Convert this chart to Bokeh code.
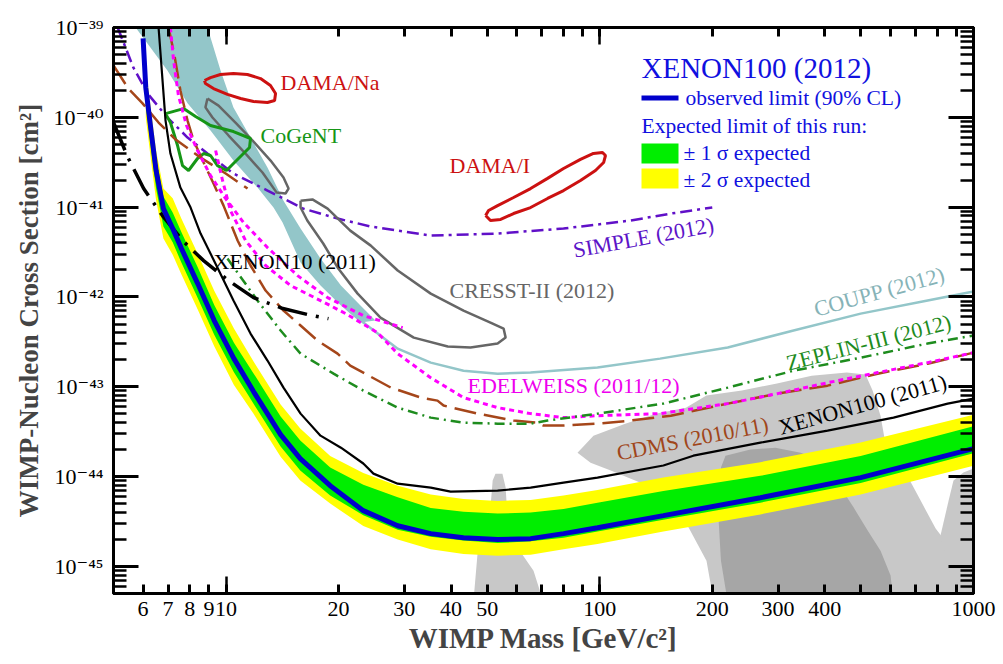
import math
from bokeh.plotting import figure
from bokeh.models import (FixedTicker, CustomJSTickFormatter, LogAxis, Label,
                          BoxAnnotation, Range1d)
from bokeh.embed import file_html
from bokeh.resources import INLINE

FONT = "Liberation Serif"
TICK_FONT = "'Liberation Serif', 'DejaVu Serif', serif"

# ---------------- axis ranges / ticks ----------------
X_MIN, X_MAX = 5.0, 1000.0
Y_MIN, Y_MAX = 5e-46, 1e-39
x_ticks = [6, 7, 8, 9, 10, 20, 30, 40, 50, 60, 70, 80, 90, 100,
           200, 300, 400, 500, 600, 700, 800, 900, 1000]
x_long_ticks = [10, 100, 1000]
x_label_vals = [6, 7, 8, 9, 10, 20, 30, 40, 50, 100, 200, 300, 400, 1000]
x_tick_labels = ["6", "7", "8", "9", "10", "20", "30", "40", "50",
                 "100", "200", "300", "400", "1000"]
y_ticks = [1e-45, 1e-44, 1e-43, 1e-42, 1e-41, 1e-40, 1e-39]
y_minor = [k * 10.0 ** e for e in range(-46, -39) for k in range(2, 10)]

# ---------------- XENON100 (2012) ----------------
xe12_mass = [6.0, 6.1, 6.3, 6.5, 6.8, 7.2, 7.6, 8.4, 9.3, 10.5, 11.85, 14.0, 15.8,
             19.0, 23.3, 28.8, 35.3, 43.2, 53.3, 65.3, 80.0, 98.6, 148, 269, 499, 1000]
xe12_obs = [7.55e-40, 2.15e-40, 7.13e-41, 2.56e-41, 9.64e-42, 5.78e-42, 3.46e-42,
            1.41e-42, 5.46e-43, 2.06e-43, 8.85e-44, 2.94e-44, 1.59e-44, 7.94e-45,
            4.18e-45, 2.84e-45, 2.32e-45, 2.09e-45, 1.99e-45, 2.04e-45, 2.32e-45,
            2.70e-45, 3.68e-45, 5.83e-45, 9.75e-45, 2.05e-44]
band_mass = [6.1, 6.3, 6.5, 6.8, 7.2, 7.6, 8.4, 9.3, 10.5, 11.85, 14.0, 15.8, 19.0,
             23.3, 28.8, 35.3, 43.2, 53.3, 65.3, 80.0, 98.6, 148, 269, 499, 1000]
band_2s_hi = [3.59e-40, 1.19e-40, 4.28e-41, 1.61e-41, 1.26e-41, 7.41e-42, 3.02e-42,
              1.17e-42, 4.47e-43, 1.91e-43, 6.36e-44, 3.44e-44, 1.70e-44, 1.10e-44,
              7.94e-45, 6.31e-45, 5.62e-45, 5.37e-45, 5.50e-45, 6.17e-45, 7.08e-45,
              9.77e-45, 1.45e-44, 2.40e-44, 4.90e-44]
band_1s_hi = [2.92e-40, 9.70e-41, 3.48e-41, 1.31e-41, 8.71e-42, 5.25e-42, 2.14e-42,
              8.13e-43, 3.09e-43, 1.41e-43, 4.67e-44, 2.52e-44, 1.26e-44, 8.13e-45,
              5.89e-45, 4.47e-45, 4.07e-45, 3.89e-45, 3.98e-45, 4.37e-45, 5.13e-45,
              6.92e-45, 1.02e-44, 1.70e-44, 3.63e-44]
band_1s_lo = [1.36e-40, 4.50e-41, 1.61e-41, 6.08e-42, 4.07e-42, 2.40e-42, 9.77e-43,
              3.80e-43, 1.45e-43, 6.46e-44, 2.16e-44, 1.17e-44, 6.17e-45, 3.72e-45,
              2.57e-45, 2.14e-45, 1.95e-45, 1.82e-45, 1.91e-45, 2.09e-45, 2.45e-45,
              3.31e-45, 5.13e-45, 8.51e-45, 1.82e-44]
band_2s_lo = [9.95e-41, 3.30e-41, 1.19e-41, 4.47e-42, 2.95e-42, 1.78e-42, 7.24e-43,
              2.82e-43, 1.05e-43, 5.01e-44, 1.67e-44, 9.06e-45, 5.01e-45, 2.82e-45,
              2.00e-45, 1.55e-45, 1.38e-45, 1.32e-45, 1.35e-45, 1.55e-45, 1.78e-45,
              2.45e-45, 3.80e-45, 6.31e-45, 1.32e-44]

# ---------------- XENON100 (2011) ----------------
xe11_mass = [6.60, 6.89, 7.10, 7.55, 8.04, 8.55, 9.49, 10.47, 11.63, 12.91, 14.25,
             15.83, 17.9, 20.3, 23.3, 24.8, 28.8, 35.3, 39.9, 53.3, 65.3, 80.0, 98.6,
             148, 178, 269, 407, 611, 853, 1000]
xe11_sigma = [1.0e-39, 9.2e-41, 3.95e-41, 1.65e-41, 9.9e-42, 5.08e-42, 2.12e-42,
              9.12e-43, 3.91e-43, 1.96e-43, 9.8e-44, 5.03e-44, 2.86e-44, 2.10e-44,
              1.40e-44, 1.08e-44, 8.35e-45, 7.55e-45, 6.81e-45, 6.98e-45, 7.55e-45,
              8.58e-45, 9.75e-45, 1.33e-44, 1.71e-44, 2.39e-44, 3.25e-44, 4.54e-44,
              6.50e-44, 7.39e-44]

# ---------------- XENON10 (2011) ----------------
xe10_mass = [5.0, 5.45, 6.02, 6.76, 7.65, 8.71, 10.16, 11.85, 14.2, 17.0, 18.8]
xe10_sigma = [8.75e-41, 3.66e-41, 1.61e-41, 8.05e-42, 4.25e-42, 2.54e-42, 1.52e-42,
              9.84e-43, 7.43e-43, 6.21e-43, 5.74e-43]

# ---------------- CDMS (2010/11) ----------------
cdms_mass = [7.02, 7.28, 7.55, 7.89, 8.19, 8.71, 9.26, 9.85, 10.74, 11.63, 12.76,
             14.25, 15.83, 17.58, 19.88, 21.5, 27.6, 33.2, 36.8, 38.2, 47.1, 58.8,
             68.2, 70.7, 80.0, 98.6, 121, 155, 220, 299, 407, 554, 754, 1000]
cdms_sigma = [1.0e-39, 4.88e-40, 1.99e-40, 9.2e-41, 5.52e-41, 3.14e-41, 1.83e-41,
              1.04e-41, 4.25e-42, 2.24e-42, 1.18e-42, 7.06e-43, 4.81e-43, 3.27e-43,
              2.34e-43, 1.72e-43, 9.8e-44, 7.59e-44, 7.02e-44, 6.18e-44, 5.03e-44,
              4.21e-44, 3.99e-44, 3.70e-44, 3.70e-44, 3.89e-44, 4.21e-44, 4.77e-44,
              6.50e-44, 8.39e-44, 1.03e-43, 1.40e-43, 1.81e-43, 2.40e-43]
cdms_lt_mass = [5.0, 5.48, 5.98, 6.60, 7.33, 8.55, 9.98, 11.42]
cdms_lt_sigma = [3.78e-40, 2.09e-40, 1.43e-40, 8.75e-41, 5.66e-41, 3.56e-41,
                 2.37e-41, 1.61e-41]

# ---------------- EDELWEISS (2011/12) ----------------
edw_lm_mass = [7.10, 7.24, 7.46, 7.84, 8.39, 9.09, 9.97, 11.14, 12.91, 15.54, 18.7,
               23.3, 29.7]
edw_lm_sigma = [1.0e-39, 4.30e-40, 1.75e-40, 8.11e-41, 4.27e-41, 2.25e-41, 1.25e-41,
                6.75e-42, 3.55e-42, 1.73e-42, 9.84e-43, 6.21e-43, 4.56e-43]
edw_mass = [9.38, 9.79, 10.28, 11.28, 12.76, 14.88, 17.9, 20.9, 25.4, 28.8, 35.3,
            43.2, 53.3, 65.3, 80.0, 98.6, 145, 220, 299, 407, 554, 754, 1000]
edw_sigma = [4.27e-41, 1.98e-41, 9.16e-42, 4.25e-42, 2.24e-42, 1.34e-42, 9.12e-43,
             6.53e-43, 4.02e-43, 2.34e-43, 1.26e-43, 7.59e-44, 5.86e-44, 5.03e-44,
             4.54e-44, 4.77e-44, 5.03e-44, 6.50e-44, 8.39e-44, 1.11e-43, 1.44e-43,
             1.86e-43, 2.40e-43]

# ---------------- ZEPLIN-III (2012) ----------------
zep_mass = [10.09, 12.14, 14.0, 15.83, 19.4, 23.3, 28.8, 35.3, 43.2, 53.3, 65.3,
            72.5, 98.6, 148, 220, 330, 499, 754, 1000]
zep_sigma = [2.68e-42, 9.12e-43, 4.23e-43, 2.34e-43, 1.40e-43, 9.08e-44, 5.86e-44,
             4.54e-44, 3.99e-44, 3.89e-44, 3.89e-44, 4.21e-44, 5.03e-44, 6.50e-44,
             9.8e-44, 1.51e-43, 2.11e-43, 3.03e-43, 3.72e-43]

# ---------------- COUPP (2012) ----------------
coupp_mass = [19.05, 23.3, 28.8, 35.3, 43.2, 53.3, 65.3, 98.6, 145, 220, 330, 499,
              754, 1000]
coupp_sigma = [1.18e-42, 5.19e-43, 2.66e-43, 1.86e-43, 1.51e-43, 1.40e-43, 1.44e-43,
               1.64e-43, 2.06e-43, 2.74e-43, 4.23e-43, 6.53e-43, 9.12e-43, 1.15e-42]
band_c_upper_mass = [8.92, 9.67, 10.47, 11.63, 12.91, 14.25, 15.83, 17.9, 20.3, 22.9, 25.1]
band_c_upper_sigma = [1e-39, 3.32e-40, 1.29e-40, 5.96e-41, 2.76e-41, 1.18e-41,
                      5.78e-42, 2.68e-42, 1.34e-42, 8.02e-43, 5.46e-43]
band_c_lower_mass = [22.9, 20.3, 17.9, 15.83, 14.17, 13.4, 12.14, 10.47, 9.09, 7.89,
                     6.97, 5.73]
band_c_lower_sigma = [5.19e-43, 8.02e-43, 1.34e-42, 2.42e-42, 6.75e-42, 9.9e-42,
                      1.65e-41, 3.30e-41, 7.13e-41, 1.43e-40, 3.32e-40, 1e-39]

# ---------------- SIMPLE (2012) ----------------
simple_mass = [5.13, 5.65, 6.17, 6.97, 7.89, 8.92, 10.47, 12.91, 16.1, 19.9, 24.4,
               35.3, 53.3, 80.0, 121, 155, 200]
simple_sigma = [1e-39, 3.59e-40, 1.84e-40, 9.95e-41, 5.96e-41, 3.95e-41, 2.37e-41,
                1.53e-41, 9.64e-42, 7.46e-42, 6.08e-42, 4.83e-42, 5.08e-42, 5.78e-42,
                7.10e-42, 8.49e-42, 9.9e-42]

# ---------------- signal claims (closed contours) ----------------
dama_na_mass = [8.76, 9.09, 9.66, 10.47, 11.41, 12.37, 13.15, 13.57, 13.49, 12.91,
                11.85, 10.94, 10.09, 9.26, 8.81]
dama_na_sigma = [2.57e-40, 2.77e-40, 3.00e-40, 3.08e-40, 3.00e-40, 2.70e-40, 2.26e-40,
                 1.84e-40, 1.54e-40, 1.46e-40, 1.50e-40, 1.62e-40, 1.80e-40, 2.09e-40,
                 2.38e-40]
dama_i_mass = [49.5, 50.4, 53.3, 58.8, 65.3, 72.5, 80.0, 88.8, 96.2, 101.7, 103.6,
               102.4, 97.4, 88.8, 80.0, 72.5, 65.3, 58.8, 54.3, 51.0]
dama_i_sigma = [8.07e-42, 9.18e-42, 1.04e-41, 1.28e-41, 1.61e-41, 2.09e-41, 2.69e-41,
                3.40e-41, 3.96e-41, 4.06e-41, 3.76e-41, 3.14e-41, 2.56e-41, 1.98e-41,
                1.53e-41, 1.25e-41, 9.9e-42, 8.49e-42, 7.29e-42, 7.11e-42]
cogent_mass = [6.89, 7.70, 8.29, 9.09, 10.47, 11.63, 11.56, 10.47, 10.03, 9.49, 9.09,
               8.71, 8.39, 7.94, 7.65, 7.42, 7.10]
cogent_sigma = [1.10e-40, 1.25e-40, 1.02e-40, 8.11e-41, 6.95e-41, 5.81e-41, 4.61e-41,
                3.06e-41, 2.56e-41, 2.90e-41, 3.76e-41, 3.95e-41, 3.48e-41, 2.56e-41,
                2.90e-41, 4.85e-41, 8.75e-41]
cresst1_mass = [8.92, 9.55, 10.60, 11.78, 13.16, 14.25, 14.70, 14.43, 13.65, 12.52,
                11.28, 10.16, 9.20, 8.81]
cresst1_sigma = [1.62e-40, 1.35e-40, 8.75e-41, 5.52e-41, 3.30e-41, 2.14e-41, 1.61e-41,
                 1.42e-41, 1.46e-41, 2.43e-41, 3.95e-41, 6.27e-41, 9.95e-41, 1.29e-40]
cresst2_mass = [15.83, 17.03, 18.7, 21.5, 24.4, 28.8, 35.3, 43.2, 51.0, 55.3, 56.0,
                53.3, 45.1, 39.2, 31.8, 25.9, 22.5, 19.9, 18.2, 16.5, 15.83]
cresst2_sigma = [1.18e-41, 1.22e-41, 9.64e-42, 5.48e-42, 3.73e-42, 1.97e-42, 1.09e-42,
                 7.06e-43, 5.19e-43, 4.45e-43, 3.53e-43, 3.03e-43, 2.74e-43, 2.81e-43,
                 3.53e-43, 5.90e-43, 1.09e-42, 2.12e-42, 3.94e-42, 7.10e-42, 9.9e-42]

# ---------------- CMSSM regions (gray) ----------------
cmssm_a_mass = [45.9, 47.1, 51.0, 51.7, 52.6, 54.9, 56.0, 56.7, 60.3, 66.5, 70.7]
cmssm_a_sigma = [4e-46, 1.39e-45, 4.52e-45, 9.04e-45, 1.08e-44, 1.08e-44, 7.55e-45,
                 3.24e-45, 1.62e-45, 8.97e-46, 4e-46]
cmssm_b_mass = [87.2, 96.2, 117, 142, 170, 193, 240, 298, 369, 458, 514, 537, 564,
                589, 658, 722, 792, 858, 880, 924, 202, 193, 173, 145, 107, 94.5]
cmssm_b_sigma = [1.85e-44, 2.86e-44, 3.89e-44, 5.03e-44, 5.86e-44, 7.98e-44, 9.08e-44,
                 1.09e-43, 1.33e-43, 1.44e-43, 1.37e-43, 9.08e-44, 4.77e-44, 1.71e-44,
                 1.11e-44, 5.41e-45, 2.64e-45, 1.71e-45, 8.97e-46, 4e-46, 4e-46,
                 1.16e-45, 2.70e-45, 6.98e-45, 1.17e-44, 1.43e-44]
cmssm_c_mass = [211, 217, 253, 295, 345, 407, 441, 478, 521, 564, 600, 611, 220, 211, 208]
cmssm_c_sigma = [1.26e-44, 1.71e-44, 2.00e-44, 2.10e-44, 1.85e-44, 1.40e-44, 7.55e-45,
                 4.52e-45, 2.51e-45, 1.50e-45, 7.91e-46, 4e-46, 4e-46, 1.16e-45, 3.24e-45]
cmssm_d_mass = [816, 858, 884, 940, 1000, 1100, 1100, 900]
cmssm_d_sigma = [2.21e-45, 5.42e-45, 9.06e-45, 1.11e-44, 1.23e-44, 1.23e-44, 4e-46, 4e-46]


def closed(a):
    return list(a) + [a[0]]


p = figure(frame_width=860, frame_height=566, x_axis_type="log", y_axis_type="log",
           x_range=Range1d(X_MIN, X_MAX), y_range=Range1d(Y_MIN, Y_MAX),
           output_backend="svg", toolbar_location=None,
           min_border_left=113, min_border_right=30, min_border_top=27,
           min_border_bottom=71, background_fill_color="white",
           border_fill_color="white")
p.grid.visible = False
p.outline_line_color = "black"
p.outline_line_width = 3

bottom = p.below[0]
left = p.left[0]

# ---- axes ----
xfmt = CustomJSTickFormatter(args=dict(vals=x_label_vals, labs=x_tick_labels), code="""
const i = vals.findIndex(v => Math.abs(v - tick) < 1e-6 * v);
return i >= 0 ? labs[i] : '';
""")
yfmt = CustomJSTickFormatter(code="""
const sup = {'-':'\u207b','0':'\u2070','1':'\u00b9','2':'\u00b2','3':'\u00b3','4':'\u2074',
             '5':'\u2075','6':'\u2076','7':'\u2077','8':'\u2078','9':'\u2079'};
const e = Math.round(Math.log10(tick));
return '10' + String(e).split('').map(c => sup[c]).join('');
""")
blank = CustomJSTickFormatter(code="return ' ';")

top = LogAxis()
right = LogAxis()
p.add_layout(top, "above")
p.add_layout(right, "right")

for ax in [bottom, top]:
    ax.ticker = FixedTicker(ticks=x_ticks, minor_ticks=x_long_ticks)
    ax.major_tick_in = 9
    ax.minor_tick_in = 17
for ax in [left, right]:
    ax.ticker = FixedTicker(ticks=y_ticks, minor_ticks=y_minor)
    ax.major_tick_in = 25
    ax.minor_tick_in = 13
for ax in [bottom, top, left, right]:
    ax.major_tick_out = 0
    ax.minor_tick_out = 0
    ax.axis_line_width = 3
    ax.major_tick_line_width = 3
    ax.minor_tick_line_width = 2.5
    ax.major_label_text_font = TICK_FONT
    ax.axis_label_text_font = FONT
    ax.major_label_text_color = "black"
for ax in [top, right]:
    ax.formatter = blank
    ax.major_label_text_font_size = "2px"
    ax.major_label_standoff = 0

bottom.formatter = xfmt
bottom.major_label_text_font_size = "22px"
bottom.major_label_standoff = 8
bottom.axis_label = "WIMP Mass [GeV/c\u00b2]"
bottom.axis_label_text_font_size = "29px"
bottom.axis_label_text_font_style = "bold"
bottom.axis_label_standoff = 3

left.formatter = yfmt
left.major_label_text_font_size = "22px"
left.major_label_standoff = 10
left.axis_label = "WIMP-Nucleon Cross Section [cm\u00b2]"
left.axis_label_text_font_size = "27px"
left.axis_label_text_font_style = "bold"
left.axis_label_standoff = 6

# ---- gray CMSSM regions ----
for gm, gs, gc in [(cmssm_a_mass, cmssm_a_sigma, "#c8c8c8"),
                   (cmssm_b_mass, cmssm_b_sigma, "#c8c8c8"),
                   (cmssm_d_mass, cmssm_d_sigma, "#c8c8c8"),
                   (cmssm_c_mass, cmssm_c_sigma, "#a6a6a6")]:
    p.patch(gm, gs, fill_color=gc, line_color=None)

# ---- light-blue band ----
p.patch(band_c_upper_mass + band_c_lower_mass, band_c_upper_sigma + band_c_lower_sigma,
        fill_color="#93c6c9", line_color=None)

# ---- XENON100 2012 expected bands ----
p.varea(x=band_mass, y1=band_2s_lo, y2=band_2s_hi, fill_color="#ffff00")
p.varea(x=band_mass, y1=band_1s_lo, y2=band_1s_hi, fill_color="#00ee00")

# ---- other limits ----
p.line(coupp_mass, coupp_sigma, line_color="#93c6c9", line_width=2.5)
p.line(simple_mass, simple_sigma, line_color="#6010c8", line_width=2.5,
       line_dash="12 5 3 5")
p.line(closed(cresst1_mass), closed(cresst1_sigma), line_color="#666666", line_width=2.5)
p.line(closed(cresst2_mass), closed(cresst2_sigma), line_color="#666666", line_width=2.5)
p.line(closed(dama_na_mass), closed(dama_na_sigma), line_color="#cc1111", line_width=3)
p.line(closed(dama_i_mass), closed(dama_i_sigma), line_color="#cc1111", line_width=3)
p.line(closed(cogent_mass), closed(cogent_sigma), line_color="#169616", line_width=3)
p.line(cdms_mass, cdms_sigma, line_color="#a5461a", line_width=2.5, line_dash="22 8")
p.line(cdms_lt_mass, cdms_lt_sigma, line_color="#a5461a", line_width=2.5, line_dash="22 8")
p.line(edw_lm_mass, edw_lm_sigma, line_color="#ff00ff", line_width=3, line_dash="5 4")
p.line(edw_mass, edw_sigma, line_color="#ff00ff", line_width=3, line_dash="5 4")
p.line(zep_mass, zep_sigma, line_color="#1e8c1e", line_width=2.5, line_dash="10 5 2 5")
p.line(xe10_mass, xe10_sigma, line_color="black", line_width=3.5, line_dash="30 9 3 9")
p.line(xe11_mass, xe11_sigma, line_color="black", line_width=2.2)
p.line(xe12_mass, xe12_obs, line_color="#0000cc", line_width=5)


# ---- text labels (placed by pixel position in the frame) ----
def at(px, py):
    lx = math.log10(X_MIN) + (px - 113) / 860 * (math.log10(X_MAX) - math.log10(X_MIN))
    ly = math.log10(Y_MAX) - (py - 27) / 566 * (math.log10(Y_MAX) - math.log10(Y_MIN))
    return 10 ** lx, 10 ** ly


labels = [
    ("DAMA/Na", 280, 82, "#cc1111", 0, "left", "middle"),
    ("CoGeNT", 260, 135, "#169616", 0, "left", "middle"),
    ("DAMA/I", 449, 165, "#cc1111", 0, "left", "middle"),
    ("XENON10 (2011)", 213, 261, "black", 0, "left", "middle"),
    ("CRESST-II (2012)", 449, 290, "#666666", 0, "left", "middle"),
    ("EDELWEISS (2011/12)", 467, 385, "#ee00ee", 0, "left", "middle"),
    ("SIMPLE (2012)", 643, 237, "#5c14c8", 10.5, "center", "alphabetic"),
    ("COUPP (2012)", 879, 291, "#86b3b7", 15.4, "center", "alphabetic"),
    ("ZEPLIN-III (2012)", 868, 342, "#1e8c1e", 14.4, "center", "alphabetic"),
    ("CDMS (2010/11)", 692, 438, "#a0461a", 11, "center", "alphabetic"),
    ("XENON100 (2011)", 862, 404, "black", 15.5, "center", "alphabetic"),
]
for text, px, py, col, ang, al, bl in labels:
    x, y = at(px, py)
    p.add_layout(Label(x=x, y=y, text=text, text_font=FONT, text_font_size="22px",
                       text_color=col, angle=ang, angle_units="deg",
                       text_align=al, text_baseline=bl))

# ---- legend ----
LEG = "#1010e0"
x, y = at(641, 67)
p.add_layout(Label(x=x, y=y, text="XENON100 (2012)", text_font=FONT,
                   text_font_size="29px", text_color=LEG, text_baseline="middle"))
l0, t0 = at(641, 95)
r0, b0 = at(678, 100)
p.add_layout(BoxAnnotation(left=l0, right=r0, top=t0, bottom=b0, fill_color="#0000cc",
                           fill_alpha=1, line_color=None))
legend_texts = [("observed limit (90% CL)", 685, 97),
                ("Expected limit of this run:", 641, 125),
                ("\u00b1 1 \u03c3 expected", 683, 152),
                ("\u00b1 2 \u03c3 expected", 683, 179)]
for text, px, py in legend_texts:
    x, y = at(px, py)
    p.add_layout(Label(x=x, y=y, text=text, text_font=FONT, text_font_size="21.5px",
                       text_color=LEG, text_baseline="middle"))
for (t, b, col) in [(143, 163, "#00ee00"), (168, 188, "#ffff00")]:
    l, tt = at(641, t)
    r, bb = at(678, b)
    p.add_layout(BoxAnnotation(left=l, right=r, top=tt, bottom=bb, fill_color=col,
                               fill_alpha=1, line_color=None))

open("out.html", "w").write(file_html(p, INLINE))
